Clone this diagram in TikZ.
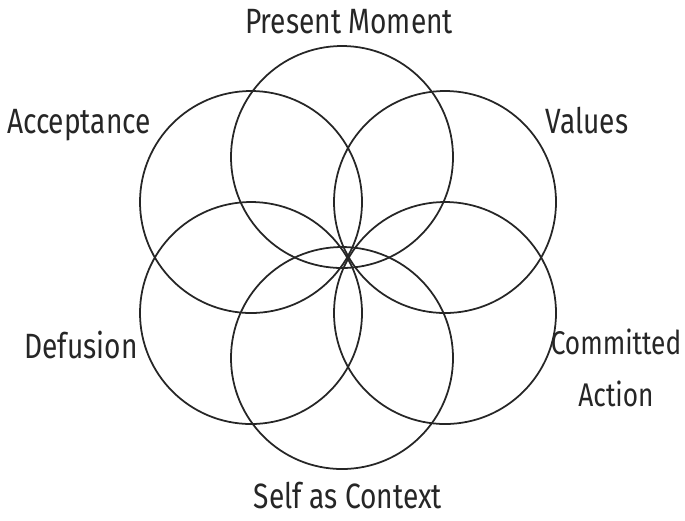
\documentclass[tikz,border=0pt]{standalone}
\usepackage{fontspec}
\setmainfont{Fira Sans}[FakeStretch=0.8]
\begin{document}
\begin{tikzpicture}[x=0.03cm,y=-0.03cm,
    petal/.style={draw=black!85, line width=1.5pt},
    lbl/.style={font=\fontsize{30}{42.5}\selectfont, inner sep=0pt, text=black!85}]
    \useasboundingbox (0,0) rectangle (685,520);
    % six circles round the middle
    \foreach \cx/\cy in {342/157, 445/202, 445/313, 342/358, 251/313, 251/202}
        \draw[petal] (\cx,\cy) circle [radius=111];
    \node[lbl, anchor=base] (present) at (349,33) {Present Moment};
    \node[lbl, anchor=base] (accept) at (79,133) {Acceptance};
    \node[lbl, anchor=base] (values) at (587,133) {Values};
    \node[lbl, anchor=base] (defusion) at (81,358) {Defusion};
    \node[lbl, font=\fontsize{28}{44}\selectfont, align=center, anchor=center] (commit) at (616,368) {Committed\\Action};
    \node[lbl, anchor=base] (self) at (348,508) {Self as Context};
\end{tikzpicture}
\end{document}
